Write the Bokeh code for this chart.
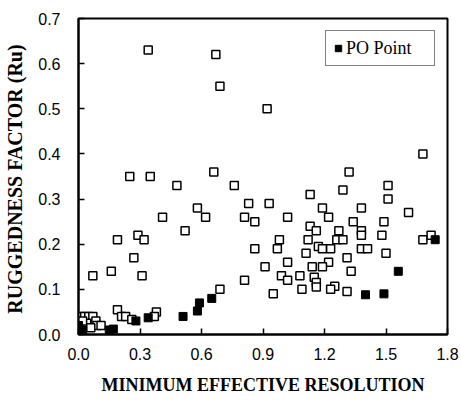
from bokeh.plotting import figure
from bokeh.models import Range1d, FixedTicker, PrintfTickFormatter, Legend, LegendItem
from bokeh.embed import file_html
from bokeh.resources import INLINE

# Open squares: all points
open_x = [0.34, 0.67, 0.69, 0.92, 1.68,
          0.25, 0.35, 0.66, 1.32,
          0.48, 0.76, 1.51,
          1.29, 1.13,
          0.58, 0.83, 0.93, 1.51,
          1.19, 1.38,
          0.41, 0.62, 0.81, 0.86, 1.02, 1.22, 1.61, 1.34, 1.49,
          0.52, 1.13, 1.16, 1.27, 1.38,
          0.29, 0.32, 0.19, 0.98, 1.12, 1.26, 1.29, 1.38, 1.48, 1.68, 1.72,
          0.86, 0.97, 1.17, 1.19, 1.23, 1.38, 1.41, 1.50, 1.11,
          0.27, 1.02, 1.22, 1.31,
          0.16, 0.07, 0.31, 0.91, 1.14, 1.19, 1.33,
          0.81, 0.99, 1.02, 1.08, 1.15, 1.16, 1.16, 1.25,
          0.69, 0.95, 1.09, 1.23, 1.31,
          0.19, 0.21, 0.23, 0.26, 0.38, 0.37,
          0.01, 0.03, 0.05, 0.07, 0.04, 0.02, 0.085, 0.09, 0.11, 0.06]
open_y = [0.63, 0.62, 0.55, 0.50, 0.40,
          0.35, 0.35, 0.36, 0.36,
          0.33, 0.33, 0.33,
          0.32, 0.31,
          0.28, 0.29, 0.29, 0.30,
          0.28, 0.28,
          0.26, 0.26, 0.26, 0.25, 0.26, 0.26, 0.27, 0.25, 0.25,
          0.23, 0.24, 0.23, 0.23, 0.23,
          0.22, 0.21, 0.21, 0.21, 0.21, 0.21, 0.21, 0.22, 0.22, 0.21, 0.22,
          0.19, 0.19, 0.195, 0.19, 0.19, 0.19, 0.19, 0.18, 0.18,
          0.17, 0.16, 0.16, 0.17,
          0.14, 0.13, 0.13, 0.15, 0.15, 0.15, 0.14,
          0.12, 0.13, 0.12, 0.13, 0.127, 0.115, 0.105, 0.107,
          0.10, 0.09, 0.10, 0.10, 0.095,
          0.055, 0.04, 0.04, 0.033, 0.05, 0.04,
          0.04, 0.04, 0.04, 0.04, 0.025, 0.03, 0.03, 0.02, 0.02, 0.015]

# Filled squares: PO points
po_x = [0.0, 0.0, 0.02, 0.15, 0.17, 0.28, 0.34, 0.51, 0.58, 0.59, 0.65, 1.40, 1.49, 1.56, 1.74]
po_y = [0.02, 0.005, 0.01, 0.01, 0.012, 0.03, 0.037, 0.04, 0.052, 0.07, 0.08, 0.088, 0.09, 0.14, 0.21]

x_ticks = [0.0, 0.3, 0.6, 0.9, 1.2, 1.5, 1.8]
y_ticks = [0.0, 0.1, 0.2, 0.3, 0.4, 0.5, 0.6, 0.7]

p = figure(width=461, height=401, output_backend="svg", toolbar_location=None,
           x_range=Range1d(0, 1.8), y_range=Range1d(0, 0.7))
p.min_border_left = 78
p.min_border_right = 14
p.min_border_top = 18
p.min_border_bottom = 67
p.background_fill_color = "white"
p.border_fill_color = "white"
p.outline_line_color = "black"
p.outline_line_width = 2
p.xgrid.visible = False
p.ygrid.visible = False

p.scatter(open_x, open_y, marker="square", size=8, fill_color="white",
          line_color="black", line_width=1.5)
po = p.scatter(po_x, po_y, marker="square", size=8, fill_color="black",
               line_color="black", line_width=1)

for ax in (p.xaxis[0], p.yaxis[0]):
    ax.axis_line_color = "black"
    ax.axis_line_width = 2
    ax.major_tick_in = 6
    ax.major_tick_out = 0
    ax.major_tick_line_width = 1.5
    ax.minor_tick_line_color = None
    ax.major_label_text_font = "Liberation Sans"
    ax.major_label_text_font_size = "16px"
    ax.major_label_text_color = "black"
    ax.axis_label_text_font = "Liberation Serif"
    ax.axis_label_text_font_style = "bold"
    ax.axis_label_text_color = "black"
    ax.formatter = PrintfTickFormatter(format="%.1f")

p.xaxis.ticker = FixedTicker(ticks=x_ticks)
p.yaxis.ticker = FixedTicker(ticks=y_ticks)
p.xaxis.axis_label = "MINIMUM EFFECTIVE RESOLUTION"
p.yaxis.axis_label = "RUGGEDNESS FACTOR  (Ru)"
p.xaxis.axis_label_text_font_size = "18px"
p.yaxis.axis_label_text_font_size = "20px"
p.xaxis.major_label_standoff = 13
p.yaxis.major_label_standoff = 18
p.xaxis.axis_label_standoff = 12
p.yaxis.axis_label_standoff = 9

legend = Legend(items=[LegendItem(label="PO Point", renderers=[po])],
                location="top_right", margin=12, padding=4,
                glyph_width=16, glyph_height=26, label_height=26,
                label_standoff=0, label_width=84,
                label_text_font="Liberation Serif", label_text_font_size="18px",
                label_text_color="black",
                border_line_color="black", border_line_width=1.5,
                background_fill_color="white", background_fill_alpha=1)
p.add_layout(legend)

open("out.html", "w").write(file_html(p, INLINE))
